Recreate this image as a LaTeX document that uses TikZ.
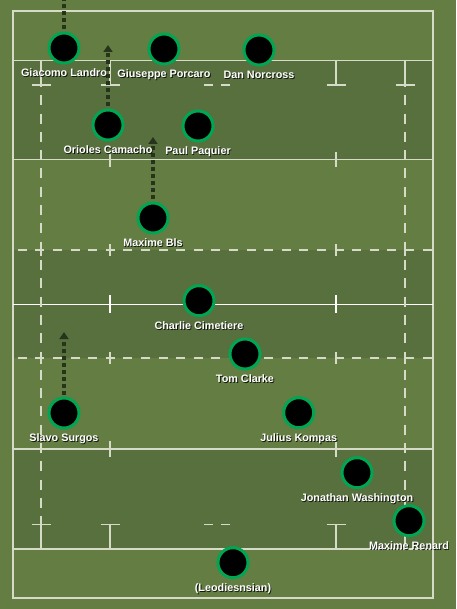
\documentclass[tikz,border=0pt]{standalone}
\usepackage{fontspec}
\setmainfont{Liberation Sans}
\usetikzlibrary{arrows.meta}
\definecolor{PitchGreen}{RGB}{99,125,66}
\definecolor{PitchBand}{RGB}{88,112,62}
\definecolor{LineWhite}{RGB}{214,219,200}
\definecolor{RingGreen}{RGB}{0,166,82}
\definecolor{RunDark}{RGB}{38,52,28}
\definecolor{ShadowDark}{RGB}{20,24,16}
\newcommand{\shadowtext}[1]{\makebox[0pt][l]{\hspace{0.9pt}\raisebox{-0.9pt}{\color{ShadowDark}#1}}#1}

\begin{document}
\begin{tikzpicture}[x=1pt,y=-1pt,
  player/.style={circle,draw=RingGreen,fill=black,line width=3pt,minimum size=30pt,inner sep=0pt},
  playername/.style={text=white,anchor=base,inner sep=0pt,font=\fontsize{10.8}{13}\selectfont\bfseries},
  pline/.style={draw=LineWhite,line width=1.4pt},
  pdash/.style={pline,dash pattern=on 9pt off 8.6pt,dash phase=12.8pt},
  run/.style={draw=RunDark,line width=3.3pt,dash pattern=on 4pt off 3pt,-{Triangle[width=9pt,length=7pt]},shorten <=2pt}]
\fill[PitchGreen] (0,0) rectangle (456,609);
\useasboundingbox (0,0) rectangle (456,609);
\clip (0,0) rectangle (456,609);
% shaded zones
\fill[PitchBand] (13,60.5) rectangle (433,159.3);
\fill[PitchBand] (13,250) rectangle (433,358);
\fill[PitchBand] (13,449) rectangle (433,549);
% pitch lines
\draw[pline] (13,11) rectangle (433,598);
\foreach \y in {60.5,159.3,449,549} \draw[pline] (13,\y) -- (433,\y);
\draw[pline,draw=white,line width=1.2pt] (13,304.3) -- (433,304.3);
\draw[pdash] (13,250) -- (433,250);
\draw[pdash] (13,358) -- (433,358);
\foreach \x in {41,405} {
  \draw[pline] (\x,60.5) -- (\x,85);
  \draw[pline,dash pattern=on 10pt off 8.3pt,dash phase=8pt] (\x,85) -- (\x,524.7);
  \draw[pline] (\x,517) -- (\x,549);
}
\foreach \x in {110,336} {
  \draw[pline] (\x,60.5) -- (\x,85);
  \draw[pline] (\x,524.7) -- (\x,549);
  \draw[pline] (\x,152) -- (\x,167);
  \draw[pline] (\x,441) -- (\x,457);
  \draw[pline,draw=white,line width=1.2pt] (\x,295) -- (\x,313);
}
\foreach \x in {41,110,336,405} {
  \draw[pline] (\x-9.5,85) -- (\x+9.5,85);
  \draw[pline] (\x-9.5,524.7) -- (\x+9.5,524.7);
  \draw[pline] (\x,244) -- (\x,256);
  \draw[pline] (\x,352) -- (\x,364);
}
\foreach \y in {85,524.7} {
  \draw[pline] (204,\y) -- (213,\y);
  \draw[pline] (221,\y) -- (230,\y);
}
% players
\node[player] (gl) at (64,48) {};
\node[player] (gp) at (164,49) {};
\node[player] (dn) at (259,50) {};
\node[player] (oc) at (108,125) {};
\node[player] (pp) at (198,126) {};
\node[player] (mb) at (153,218) {};
\node[player] (cc) at (199,300.7) {};
\node[player] (tc) at (245,354) {};
\node[player] (ss) at (64,413) {};
\node[player] (jk) at (298.7,412.7) {};
\node[player] (jw) at (357,472.7) {};
\node[player] (mr) at (409,520.7) {};
\node[player] (le) at (233,562.7) {};
% runs
\coordinate (gl-run) at (64,-10);
\coordinate (oc-run) at (108,45);
\coordinate (mb-run) at (153,137);
\coordinate (ss-run) at (64,332);
\draw[run] (gl) -- (gl-run);
\draw[run] (oc) -- (oc-run);
\draw[run] (mb) -- (mb-run);
\draw[run] (ss) -- (ss-run);
% names
\node[playername] (gl-name) at ([yshift=-28.5pt]gl.center) {\shadowtext{Giacomo Landro}};
\node[playername] (gp-name) at ([yshift=-28.5pt]gp.center) {\shadowtext{Giuseppe Porcaro}};
\node[playername] (dn-name) at ([yshift=-28.5pt]dn.center) {\shadowtext{Dan Norcross}};
\node[playername] (oc-name) at ([yshift=-28.5pt]oc.center) {\shadowtext{Orioles Camacho}};
\node[playername] (pp-name) at ([yshift=-28.5pt]pp.center) {\shadowtext{Paul Paquier}};
\node[playername] (mb-name) at ([yshift=-28.5pt]mb.center) {\shadowtext{Maxime Bls}};
\node[playername] (cc-name) at ([yshift=-28.5pt]cc.center) {\shadowtext{Charlie Cimetiere}};
\node[playername] (tc-name) at ([yshift=-28.5pt]tc.center) {\shadowtext{Tom Clarke}};
\node[playername] (ss-name) at ([yshift=-28.5pt]ss.center) {\shadowtext{Slavo Surgos}};
\node[playername] (jk-name) at ([yshift=-28.5pt]jk.center) {\shadowtext{Julius Kompas}};
\node[playername] (jw-name) at ([yshift=-28.5pt]jw.center) {\shadowtext{Jonathan Washington}};
\node[playername] (mr-name) at ([yshift=-28.5pt]mr.center) {\shadowtext{Maxime Renard}};
\node[playername] (le-name) at ([yshift=-28.5pt]le.center) {\shadowtext{(Leodiesnsian)}};
\end{tikzpicture}
\end{document}
